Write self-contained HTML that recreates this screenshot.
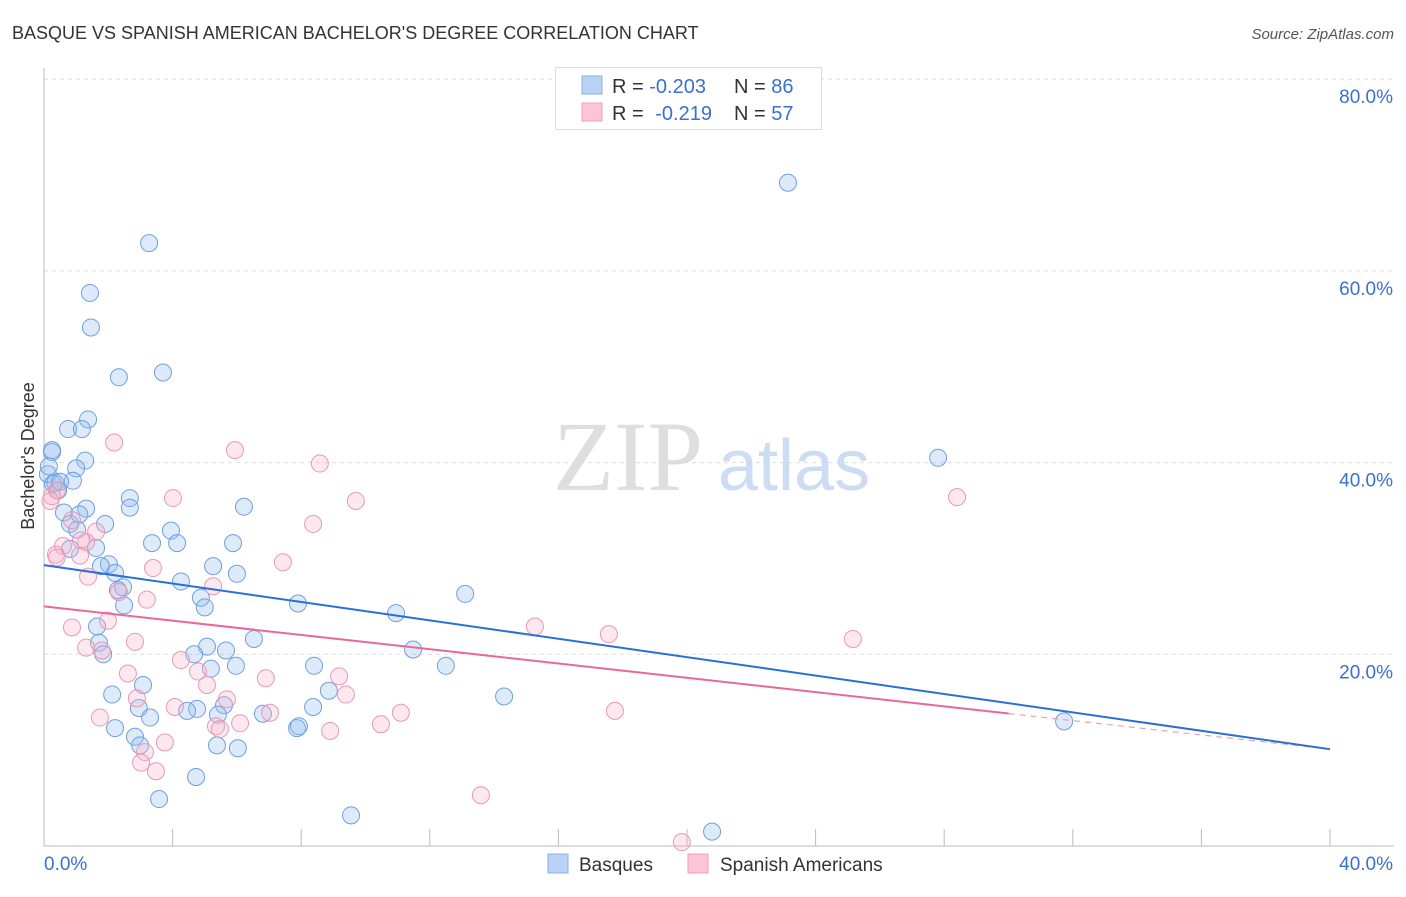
<!DOCTYPE html>
<html><head><meta charset="utf-8">
<style>
body{margin:0;background:#fff;font-family:"Liberation Sans",sans-serif;}
</style></head>
<body>
<svg id="chart" width="1406" height="892" viewBox="0 0 1406 892" font-family="Liberation Sans, sans-serif">
<text x="12" y="39" font-size="18" fill="#333">BASQUE VS SPANISH AMERICAN BACHELOR'S DEGREE CORRELATION CHART</text>
<text x="1394" y="39" font-size="15" fill="#555" text-anchor="end" font-style="italic">Source: ZipAtlas.com</text>
<g id="grid"></g>
<g>
<text x="553" y="490" font-size="100" fill="#dedede" style="font-family:'Liberation Serif',serif">ZIP</text>
<text x="718" y="490" font-size="72" fill="#ccdcf2">atlas</text>
</g>
<g id="axes"></g>
<g id="marks"></g>
<text transform="translate(34,456) rotate(-90)" font-size="18" fill="#333" text-anchor="middle">Bachelor's Degree</text>
<g>
<rect x="555.5" y="67.5" width="266" height="62" fill="#fff" stroke="#ddd"/>
<rect x="582" y="76" width="20" height="18" fill="#b9d2f5" stroke="#8ab0e6"/>
<rect x="582" y="103" width="20" height="18" fill="#fcc5d6" stroke="#ee9fba"/>
<text x="612" y="93" font-size="20" fill="#333">R = <tspan fill="#3a70d0">-0.203</tspan></text>
<text x="734" y="93" font-size="20" fill="#333">N = <tspan fill="#3a70d0">86</tspan></text>
<text x="612" y="120" font-size="20" fill="#333">R = <tspan fill="#3a70d0" dx="6">-0.219</tspan></text>
<text x="734" y="120" font-size="20" fill="#333">N = <tspan fill="#3a70d0">57</tspan></text>
</g>
<g>
<rect x="548" y="854" width="20" height="19" fill="#b9d2f5" stroke="#8ab0e6"/>
<text x="579" y="871" font-size="19" fill="#333">Basques</text>
<rect x="688" y="854" width="20" height="19" fill="#fcc5d6" stroke="#ee9fba"/>
<text x="720" y="871" font-size="19" fill="#333">Spanish Americans</text>
</g>
</svg>
<script>
const blueX=[23.14,3.27,1.43,1.46,2.33,3.70,1.37,0.75,1.18,0.25,1.28,1.0,0.12,0.9,0.28,0.44,2.67,6.22,1.31,0.62,2.67,1.9,0.81,1.03,3.95,3.36,4.14,5.88,1.62,0.81,2.02,5.26,1.77,2.21,6.0,4.26,2.46,2.3,4.88,13.1,7.9,5.0,2.49,10.95,1.65,6.53,1.71,5.07,5.66,4.67,11.48,1.84,5.97,5.19,12.5,8.4,3.08,2.12,14.31,8.86,8.37,5.6,4.76,4.45,2.95,3.3,5.41,6.81,7.87,2.21,2.83,2.99,5.38,6.03,4.73,3.58,9.55,20.78,31.73,27.81,0.25,7.93,0.15,0.35,0.5,1.1];
const blueY=[69.2,62.9,57.7,54.1,48.9,49.4,44.5,43.5,43.5,41.1,40.2,39.4,38.8,38.1,37.8,37.1,36.3,35.4,35.2,34.8,35.3,33.6,33.6,33.0,32.9,31.6,31.6,31.6,31.1,31.0,29.4,29.2,29.2,28.5,28.4,27.6,27.0,26.7,25.9,26.3,25.3,24.9,25.1,24.3,22.9,21.6,21.2,20.8,20.4,20.0,20.5,20.0,18.8,18.5,18.8,18.8,16.8,15.8,15.6,16.2,14.5,14.7,14.3,14.1,14.4,13.4,13.7,13.8,12.3,12.3,11.4,10.5,10.5,10.2,7.2,4.9,3.2,1.5,13.0,40.5,41.3,12.5,39.6,37.9,38.0,34.6];
const pinkX=[2.18,5.94,8.58,4.01,9.7,8.37,28.4,0.4,0.25,0.87,1.62,0.59,1.31,0.37,1.15,1.12,7.43,3.39,5.26,1.37,2.33,3.2,15.27,17.57,25.16,0.87,1.99,2.83,1.31,1.8,4.26,2.61,4.79,6.9,9.18,5.07,9.39,2.89,5.69,4.07,7.03,11.1,17.76,1.74,5.35,5.47,6.1,10.48,8.9,3.14,3.76,3.02,3.48,13.59,19.84,0.4,0.2];
const pinkY=[42.1,41.3,39.9,36.3,36.0,33.6,36.4,37.1,36.5,34.0,32.8,31.3,31.7,30.4,31.9,30.3,29.6,29.0,27.1,28.1,26.5,25.7,22.9,22.1,21.6,22.8,23.5,21.3,20.7,20.4,19.4,18.0,18.2,17.5,17.7,16.8,15.8,15.4,15.3,14.5,13.9,13.9,14.1,13.4,12.5,12.2,12.8,12.7,12.0,9.8,10.8,8.7,7.8,5.3,0.4,30.1,36.0];
const yTicks=[20,40,60,80];
const yTickLabels=["20.0%","40.0%","60.0%","80.0%"];
const xTickLabels=["0.0%","40.0%"];
const blueTrend=[29.3,10.1];
const pinkTrend=[25.0,10.1];
const pinkSolidEnd=30.0;

const NS="http://www.w3.org/2000/svg";
const sx=v=>44+v*32.15, sy=v=>846-v*9.585;
function mk(tag,attrs,parent){const e=document.createElementNS(NS,tag);for(const k in attrs)e.setAttribute(k,attrs[k]);parent.appendChild(e);return e;}
const grid=document.getElementById('grid'),axes=document.getElementById('axes'),marks=document.getElementById('marks');
yTicks.forEach((t,i)=>{
 const l=mk('line',{x1:44,x2:1394,y1:sy(t),y2:sy(t),stroke:'#ddd','stroke-dasharray':'4,4'},grid);
 
 
 const tx=mk('text',{x:1393,y:sy(t)+24,'font-size':19,fill:'#3a70d0','text-anchor':'end'},axes);
 tx.textContent=yTickLabels[i];
 
 
});
let a=mk('line',{x1:44,x2:44,y1:68,y2:846,stroke:'#bbb'},axes);


a=mk('line',{x1:44,x2:1394,y1:846,y2:846,stroke:'#bbb'},axes);


for(let v=0;v<=40;v+=4){
 const t=mk('line',{x1:sx(v),x2:sx(v),y1:829,y2:846,stroke:'#bbb'},axes);
 
 
}
let xl=mk('text',{x:44,y:870,'font-size':19,fill:'#3a70d0'},axes);xl.textContent=xTickLabels[0];


xl=mk('text',{x:1393,y:870,'font-size':19,fill:'#3a70d0','text-anchor':'end'},axes);xl.textContent=xTickLabels[1];


blueX.forEach((x,i)=>{
 const c=mk('circle',{cx:sx(x),cy:sy(blueY[i]),r:8.5,fill:'rgba(150,190,240,0.32)',stroke:'#6f9fe0','stroke-width':1},marks);
 
 
});
pinkX.forEach((x,i)=>{
 const c=mk('circle',{cx:sx(x),cy:sy(pinkY[i]),r:8.5,fill:'rgba(248,180,202,0.3)',stroke:'#eb97b4','stroke-width':1},marks);
 
 
});
const pAt=x=>pinkTrend[0]+(pinkTrend[1]-pinkTrend[0])*x/40;
let tl=mk('line',{x1:sx(0),y1:sy(pinkTrend[0]),x2:sx(pinkSolidEnd),y2:sy(pAt(pinkSolidEnd)),stroke:'#e8689a','stroke-width':2},marks);


tl=mk('line',{x1:sx(pinkSolidEnd),y1:sy(pAt(pinkSolidEnd)),x2:sx(40),y2:sy(pinkTrend[1]),stroke:'#e8a0ba','stroke-width':1.2,'stroke-dasharray':'6,5'},marks);


tl=mk('line',{x1:sx(0),y1:sy(blueTrend[0]),x2:sx(40),y2:sy(blueTrend[1]),stroke:'#2a6fd6','stroke-width':2},marks);


</script>
</body></html>
